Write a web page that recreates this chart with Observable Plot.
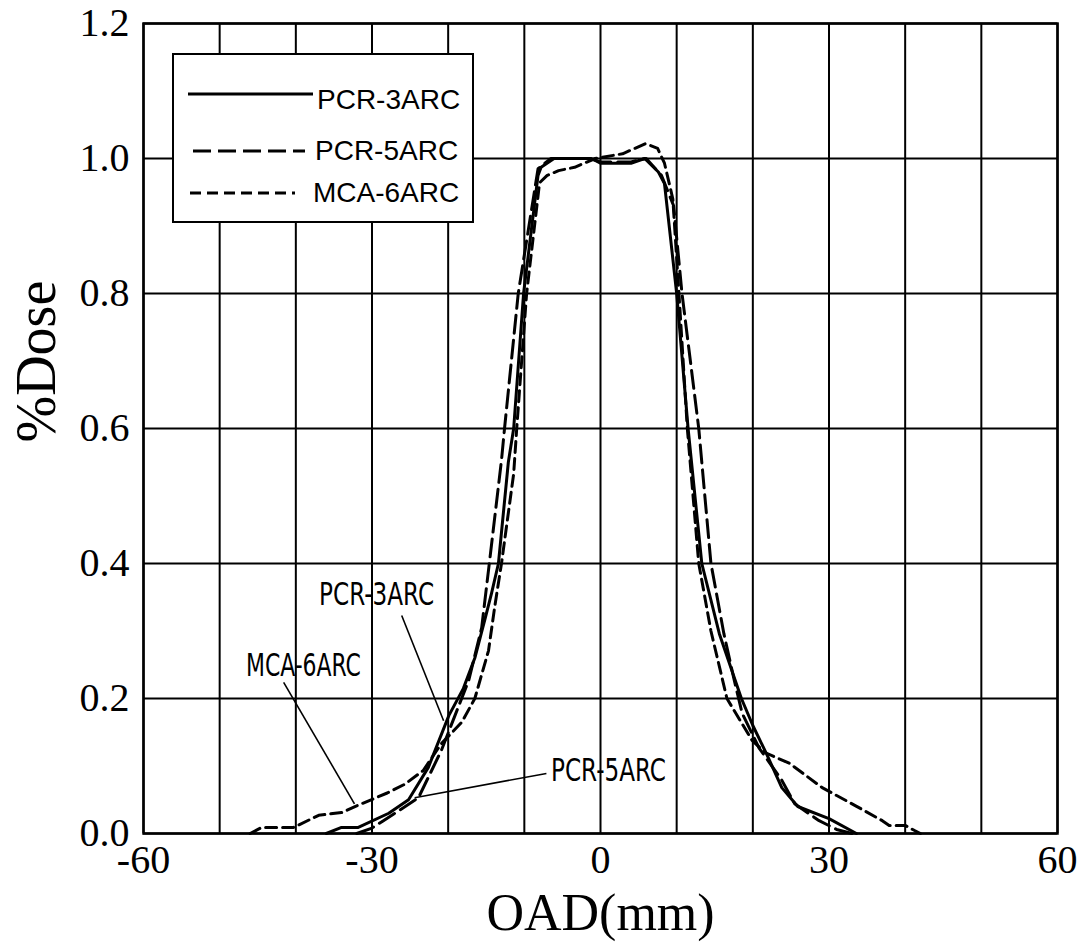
<!DOCTYPE html>
<html>
<head>
<meta charset="utf-8">
<script src="https://cdn.jsdelivr.net/npm/d3@7"></script>
<script src="https://cdn.jsdelivr.net/npm/@observablehq/plot@0.6"></script>
<style>
  body { margin: 0; background: white; }
  #wrap { position: relative; width: 1089px; height: 944px; }
  #legend { position: absolute; left: 172px; top: 53px; width: 298px; height: 166px; background: white; border: 2px solid black; font-family: "Liberation Sans", Arial, sans-serif; font-size: 28px; }
  #legend .row { position: absolute; left: 0; height: 34px; }
  #legend svg { position: absolute; left: 0; top: 0; }
  #legend span { position: absolute; white-space: nowrap; line-height: 34px; }
</style>
</head>
<body>
<div id="wrap"></div>
<script>
// ---- data (OAD in mm, relative dose) ----
const pcr3 = [[-36,0],[-34,0.009],[-31.8,0.009],[-27.8,0.03],[-25.2,0.05],[-22.6,0.098],[-19.9,0.175],[-18,0.215],[-16.5,0.26],[-15.2,0.316],[-14.3,0.356],[-13.4,0.40],[-12.1,0.55],[-11.4,0.60],[-10.1,0.80],[-8.2,0.975],[-7.8,0.987],[-6.1,1.0],[-1.2,1.0],[0,0.993],[4,0.993],[5.8,1.0],[7.6,0.98],[8.4,0.963],[10.0,0.80],[11.5,0.60],[13.3,0.40],[15.6,0.296],[18.5,0.2],[20,0.16],[21.8,0.118],[23.8,0.068],[25.9,0.04],[30.0,0.022],[33.6,0.0]];
const pcr5 = [[-32,0],[-30,0.008],[-28.5,0.019],[-27,0.03],[-23.9,0.053],[-20.9,0.123],[-19.2,0.172],[-17.3,0.227],[-15.6,0.305],[-14.6,0.40],[-13.0,0.553],[-12.6,0.60],[-10.8,0.80],[-8.2,0.985],[-6.5,1.0],[-1.5,1.0],[0,0.995],[4,0.995],[6,1.0],[8,0.975],[9.6,0.93],[10.7,0.80],[12.9,0.60],[14.5,0.40],[16.2,0.296],[17.5,0.23],[18.6,0.178],[20.8,0.127],[23.8,0.079],[25.5,0.044],[28.7,0.019],[31,0.006],[33,0]];
const mca6 = [[-46,0],[-44.5,0.009],[-40.3,0.009],[-37,0.027],[-34,0.031],[-31.8,0.042],[-28,0.06],[-25.7,0.073],[-23.3,0.093],[-20.9,0.133],[-18.2,0.165],[-16.5,0.2],[-14.7,0.271],[-13.9,0.335],[-13.0,0.40],[-11.4,0.533],[-11.0,0.60],[-9.7,0.80],[-8.0,0.964],[-7,0.975],[-5.5,0.982],[-3.4,0.987],[-0.7,1.0],[2.9,1.007],[5.9,1.022],[7.5,1.015],[8.4,0.993],[9.5,0.94],[10.3,0.80],[11.4,0.60],[12.9,0.40],[14.5,0.30],[16.6,0.2],[19.9,0.138],[21.6,0.12],[24.8,0.104],[29.1,0.068],[33.5,0.041],[37,0.019],[37.9,0.012],[40,0.012],[41.3,0.004],[42,0]];

const seriesNames = ["PCR-3ARC", "PCR-5ARC", "MCA-6ARC"];
const seriesDash = ["none", "18,7", "11,6"];

const xTicks = [-60, -30, 0, 30, 60];
const xGrid = [-60, -50, -40, -30, -20, -10, 0, 10, 20, 30, 40, 50, 60];
const yTicks = [0, 0.2, 0.4, 0.6, 0.8, 1.0, 1.2];

// annotation labels with leader lines (data units)
const notes = [
  {label: "PCR-3ARC", tx: -29.4, ty: 0.353, x1: -26.1, y1: 0.323, x2: -20.6, y2: 0.167},
  {label: "MCA-6ARC", tx: -39.0, ty: 0.249, x1: -41.6, y1: 0.224, x2: -32.3, y2: 0.044},
  {label: "PCR-5ARC", tx: 1.05, ty: 0.093, x1: -7.1, y1: 0.089, x2: -24.4, y2: 0.053}
];

const serif = "'Liberation Serif', 'Times New Roman', serif";
const narrow = "'Liberation Sans Narrow', 'DejaVu Sans Condensed', 'Liberation Sans', sans-serif";

const chart = Plot.plot({
  width: 1089,
  height: 944,
  marginLeft: 143,
  marginRight: 32,
  marginTop: 23,
  marginBottom: 111,
  style: {fontFamily: serif, fontSize: "40px", color: "black", background: "white", overflow: "visible"},
  x: {domain: [-60, 60], ticks: xTicks, tickSize: 0, tickPadding: 11, tickFormat: d => String(d), label: null},
  y: {domain: [0, 1.2], ticks: yTicks, tickSize: 0, tickPadding: 14, tickFormat: d => d.toFixed(1), label: null},
  marks: [
    Plot.gridX(xGrid, {stroke: "black", strokeOpacity: 1, strokeWidth: 2}),
    Plot.gridY(yTicks, {stroke: "black", strokeOpacity: 1, strokeWidth: 2}),
    Plot.frame({stroke: "black", strokeWidth: 2.5}),
    Plot.line(pcr3, {x: d => d[0], y: d => d[1], stroke: "black", strokeWidth: 3}),
    Plot.line(pcr5, {x: d => d[0], y: d => d[1], stroke: "black", strokeWidth: 3, strokeDasharray: seriesDash[1]}),
    Plot.line(mca6, {x: d => d[0], y: d => d[1], stroke: "black", strokeWidth: 3, strokeDasharray: seriesDash[2]}),
    Plot.link(notes, {x1: "x1", y1: "y1", x2: "x2", y2: "y2", stroke: "black", strokeWidth: 1.6}),
    Plot.text(notes, {x: "tx", y: "ty", text: "label", fontSize: 32, fontFamily: narrow, textAnchor: "middle", fill: "black"}),
    Plot.text(["%Dose"], {frameAnchor: "left", dx: -106, dy: 14, rotate: -90, fontSize: 56, fontFamily: serif, fill: "black"}),
    Plot.text(["OAD(mm)"], {frameAnchor: "bottom", dy: 96, fontSize: 52, fontFamily: serif, fill: "black"})
  ]
});

// condense annotation labels to match the narrow gothic lettering
chart.querySelectorAll("text").forEach(t => {
  if (notes.some(n => n.label === t.textContent)) {
    t.setAttribute("textLength", 115);
    t.setAttribute("lengthAdjust", "spacingAndGlyphs");
  }
});

const wrap = document.getElementById("wrap");
wrap.appendChild(chart);

// legend box inside the plot area
const legend = document.createElement("div");
legend.id = "legend";
const rowTops = [24, 79, 121];
const lineSpans = [[14, 139], [19, 131], [16, 121]];
const textLefts = [143, 141, 139];
seriesNames.forEach((name, i) => {
  const row = document.createElement("div");
  row.className = "row";
  row.style.top = rowTops[i] + "px";
  row.style.width = "298px";
  const [a, b] = lineSpans[i];
  row.innerHTML = `<svg width="298" height="34"><line x1="${a}" x2="${b}" y1="${i === 0 ? 15 : 17}" y2="${i === 0 ? 15 : 17}" stroke="black" stroke-width="3" ${seriesDash[i] === "none" ? "" : `stroke-dasharray="${seriesDash[i]}"`}/></svg><span style="left:${textLefts[i]}px;top:${i === 0 ? 4 : 0}px">${name}</span>`;
  legend.appendChild(row);
});
wrap.appendChild(legend);
</script>
</body>
</html>
